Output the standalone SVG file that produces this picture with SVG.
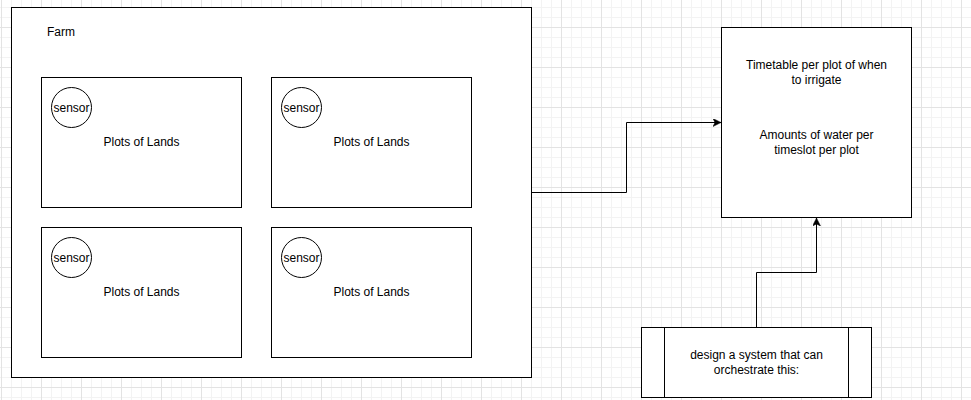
<svg xmlns="http://www.w3.org/2000/svg" width="971" height="400" viewBox="0 0 971 400">
<defs>
<pattern id="grid" x="1" y="27" width="40" height="40" patternUnits="userSpaceOnUse">
<path d="M10.5,0V40M20.5,0V40M30.5,0V40M0,10.5H40M0,20.5H40M0,30.5H40" stroke="#f3f3f3" stroke-width="1" fill="none"/>
<path d="M0.5,0V40M0,0.5H40" stroke="#e3e3e3" stroke-width="1" fill="none"/>
</pattern>
<marker id="arr" viewBox="0 0 8 8" refX="8" refY="4" markerWidth="8" markerHeight="8" markerUnits="userSpaceOnUse" orient="auto">
<path d="M0,0 L8,4 L0,8 L2,4 z" fill="#000" stroke="#000" stroke-width="0.5"/>
</marker>
</defs>
<style>
.box{fill:#fff;stroke:#000;stroke-width:1}
.sen{fill:#fff;stroke:#000;stroke-width:1}
.t{font-family:"Liberation Sans",Arial,sans-serif;font-size:12px;fill:#000;text-anchor:middle}
.tl{font-family:"Liberation Sans",Arial,sans-serif;font-size:12px;fill:#000}
.edge{fill:none;stroke:#000;stroke-width:1}
</style>
<rect x="0" y="0" width="971" height="400" fill="#fff"/>
<rect x="0" y="0" width="971" height="400" fill="url(#grid)"/>

<g id="farm">
<rect class="box" x="11.5" y="7.5" width="520" height="370"/>
<text class="tl" x="47" y="36">Farm</text>
</g>

<g id="plot1">
<rect class="box" x="41.5" y="77.5" width="200" height="130"/>
<text class="t" x="141.5" y="146">Plots of Lands</text>
</g>
<g id="sensor1">
<circle class="sen" cx="71.5" cy="107.5" r="20"/>
<text class="t" x="71.5" y="111.5">sensor</text>
</g>

<g id="plot2">
<rect class="box" x="271.5" y="77.5" width="200" height="130"/>
<text class="t" x="371.5" y="146">Plots of Lands</text>
</g>
<g id="sensor2">
<circle class="sen" cx="301.5" cy="107.5" r="20"/>
<text class="t" x="301.5" y="111.5">sensor</text>
</g>

<g id="plot3">
<rect class="box" x="41.5" y="227.5" width="200" height="130"/>
<text class="t" x="141.5" y="296">Plots of Lands</text>
</g>
<g id="sensor3">
<circle class="sen" cx="71.5" cy="257.5" r="20"/>
<text class="t" x="71.5" y="261.5">sensor</text>
</g>

<g id="plot4">
<rect class="box" x="271.5" y="227.5" width="200" height="130"/>
<text class="t" x="371.5" y="296">Plots of Lands</text>
</g>
<g id="sensor4">
<circle class="sen" cx="301.5" cy="257.5" r="20"/>
<text class="t" x="301.5" y="261.5">sensor</text>
</g>

<g id="output">
<rect class="box" x="721.5" y="27.5" width="190" height="190"/>
<text class="t" x="816.5" y="68.5">Timetable per plot of when</text>
<text class="t" x="816.5" y="84">to irrigate</text>
<text class="t" x="816.5" y="139">Amounts of water per</text>
<text class="t" x="816.5" y="154">timeslot per plot</text>
</g>

<g id="system">
<rect class="box" x="641.5" y="327.5" width="230" height="70"/>
<path class="edge" d="M664.5,327.5V397.5M848.5,327.5V397.5"/>
<text class="t" x="756.5" y="359">design a system that can</text>
<text class="t" x="756.5" y="374">orchestrate this:</text>
</g>

<g id="connectors">
<path class="edge" d="M531.5,192.5H626.5V122.5H721" marker-end="url(#arr)"/>
<path class="edge" d="M756.5,327.5V272.5H816.5V218" marker-end="url(#arr)"/>
</g>
</svg>
